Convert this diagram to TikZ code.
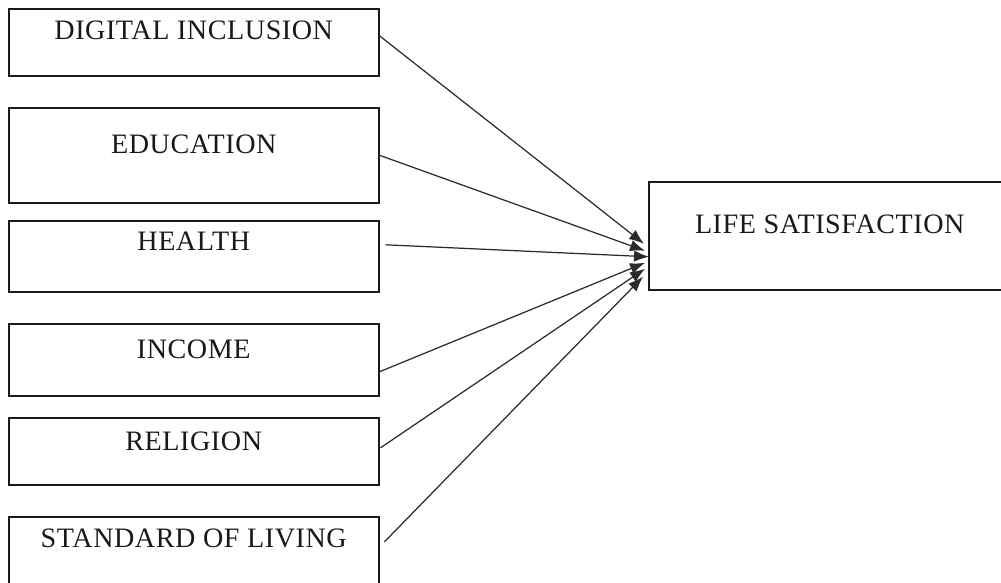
\documentclass[tikz,border=0pt]{standalone}
\usepackage{fontspec}
\setmainfont{Liberation Serif}[LetterSpace=2]
\usepackage{tikz}
\usetikzlibrary{arrows.meta}
\definecolor{frame}{HTML}{1a1a1a}
\definecolor{link}{HTML}{2a2a2a}

\begin{document}
\begin{tikzpicture}[
        x=0.02cm, y=-0.02cm,
        every node/.style={
            rectangle,
            draw=frame,
            line width=0.9pt,
            text=black!90,
            inner sep=0pt,
            anchor=north west,
            minimum width=7.4cm,
            font=\fontsize{16pt}{19pt}\selectfont
        },
        arrow/.style={
            -{Latex[length=8.5pt,width=6.5pt]},
            line width=0.7pt,
            color=link
        }
    ]
        \clip (0,0) rectangle (1001,582);

        % factors on the left
        \node (dig) [text height=0.62cm, text depth=0.72cm] at (8,8) {DIGITAL INCLUSION};
        \node (edu) [text height=0.92cm, text depth=0.98cm] at (8,107) {EDUCATION};
        \node (hlt) [text height=0.60cm, text depth=0.82cm] at (8,220) {HEALTH};
        \node (inc) [text height=0.70cm, text depth=0.74cm] at (8,323) {INCOME};
        \node (rel) [text height=0.66cm, text depth=0.68cm] at (8,417) {RELIGION};
        \node (std) [text height=0.62cm, text depth=1.06cm] at (8,516) {STANDARD OF LIVING};

        % outcome
        \node (life) [minimum width=7.24cm, text height=1.04cm, text depth=1.12cm] at (648,181) {LIFE SATISFACTION};

        \draw[arrow] ([yshift=0.13cm]dig.east) -- ([xshift=-0.08cm,yshift=-0.16cm]life.west);
        \draw[arrow] (edu.east) -- ([xshift=-0.06cm,yshift=-0.30cm]life.west);
        \draw[arrow] ([xshift=0.12cm,yshift=0.23cm]hlt.east) -- ([xshift=0.02cm,yshift=-0.42cm]life.west);
        \draw[arrow] ([yshift=-0.24cm]inc.east) -- ([xshift=-0.06cm,yshift=-0.54cm]life.west);
        \draw[arrow] ([xshift=0.02cm,yshift=0.07cm]rel.east) -- ([xshift=-0.06cm,yshift=-0.66cm]life.west);
        \draw[arrow] ([xshift=0.1cm,yshift=0.34cm]std.east) -- ([xshift=-0.1cm,yshift=-0.82cm]life.west);
    \end{tikzpicture}
\end{document}
